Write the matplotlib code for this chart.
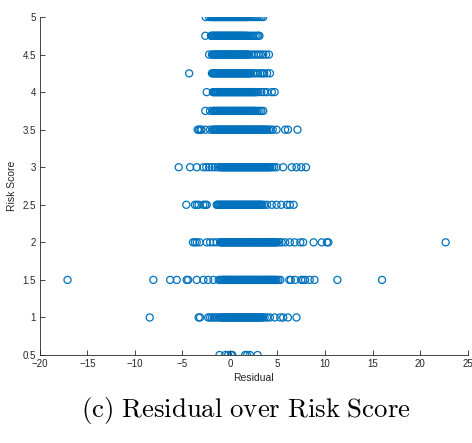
import matplotlib
matplotlib.use("Agg")
import matplotlib.pyplot as plt

# ==========  data  ==========
risk_levels = [5.0, 4.75, 4.5, 4.25, 4.0, 3.75, 3.5, 3.0, 2.5, 2.0, 1.5, 1.0, 0.5]

res_5 = [-2.56, -2.2,
         -2.0, -1.9, -1.8, -1.7, -1.6, -1.5, -1.4, -1.3, -1.2, -1.1, -1.0, -0.9, -0.8, -0.7, -0.6, -0.5,
         -0.4, -0.3, -0.2, -0.1, 0.0, 0.1, 0.2, 0.3, 0.4, 0.5, 0.6, 0.7, 0.8, 0.9, 1.0, 1.1, 1.2, 1.3,
         1.4, 1.5, 1.6, 1.7, 1.8, 1.9,
         2.1, 2.3, 2.5, 2.7, 2.9, 3.1, 3.3, 3.5]
res_475 = [-2.6,
           -2.0, -1.9, -1.8, -1.7, -1.6, -1.5, -1.4, -1.3, -1.2, -1.1, -1.0, -0.9, -0.8, -0.7, -0.6, -0.5,
           -0.4, -0.3, -0.2, -0.1, 0.0, 0.1, 0.2, 0.3, 0.4, 0.5, 0.6, 0.7, 0.8, 0.9, 1.0, 1.1, 1.2, 1.3,
           1.4, 1.5, 1.6, 1.7, 1.8,
           2.0, 2.2, 2.4, 2.6, 2.8, 2.95, 3.1]
res_45 = [-2.2,
          -1.9, -1.8, -1.7, -1.6, -1.5, -1.4, -1.3, -1.2, -1.1, -1.0, -0.9, -0.8, -0.7, -0.6, -0.5, -0.4,
          -0.3, -0.2, -0.1, 0.0, 0.1, 0.2, 0.3, 0.4, 0.5, 0.6, 0.7, 0.8, 0.9, 1.0, 1.1, 1.2, 1.3, 1.4,
          1.5, 1.6, 1.7, 1.8, 1.9, 2.0,
          2.25, 2.5, 2.75, 3.0, 3.25, 3.5, 3.8, 4.1]
res_425 = [-4.3,
           -1.9, -1.8, -1.7, -1.6, -1.5, -1.4, -1.3, -1.2, -1.1, -1.0, -0.9, -0.8, -0.7, -0.6, -0.5, -0.4,
           -0.3, -0.2, -0.1, 0.0, 0.1, 0.2, 0.3, 0.4, 0.5, 0.6, 0.7, 0.8, 0.9, 1.0, 1.1, 1.2, 1.3, 1.4,
           1.5, 1.6, 1.7, 1.8, 1.9, 2.0, 2.1, 2.2,
           2.45, 2.7, 2.95, 3.2, 3.4, 3.6, 3.9, 4.2]
res_4 = [-2.45,
         -1.8, -1.7, -1.6, -1.5, -1.4, -1.3, -1.2, -1.1, -1.0, -0.9, -0.8, -0.7, -0.6, -0.5, -0.4, -0.3,
         -0.2, -0.1, 0.0, 0.1, 0.2, 0.3, 0.4, 0.5, 0.6, 0.7, 0.8, 0.9, 1.0, 1.1, 1.2, 1.3, 1.4, 1.5,
         1.6, 1.7, 1.8, 1.9, 2.0, 2.1, 2.2, 2.3, 2.4, 2.5, 2.6, 2.7, 2.8,
         3.0, 3.3, 3.6, 3.9, 4.4, 4.7]
res_375 = [-2.6, -2.1,
           -1.8, -1.7, -1.6, -1.5, -1.4, -1.3, -1.2, -1.1, -1.0, -0.9, -0.8, -0.7, -0.6, -0.5, -0.4, -0.3,
           -0.2, -0.1, 0.0, 0.1, 0.2, 0.3, 0.4, 0.5, 0.6, 0.7, 0.8, 0.9, 1.0, 1.1, 1.2, 1.3, 1.4, 1.5,
           1.6, 1.7, 1.8, 1.9, 2.0, 2.1, 2.2, 2.3, 2.4, 2.5, 2.6, 2.7,
           2.9, 3.1, 3.3, 3.5]
res_35 = [-3.4, -3.25, -3.1, -3.0, -2.6, -2.1,
          -1.8, -1.7, -1.6, -1.5, -1.4, -1.3, -1.2, -1.1, -1.0, -0.9, -0.8, -0.7, -0.6, -0.5, -0.4, -0.3,
          -0.2, -0.1, 0.0, 0.1, 0.2, 0.3, 0.4, 0.5, 0.6, 0.7, 0.8, 0.9, 1.0, 1.1, 1.2, 1.3, 1.4, 1.5,
          1.6, 1.7, 1.8, 1.9, 2.0, 2.1, 2.2, 2.3, 2.4, 2.5, 2.6, 2.7, 2.8, 2.9, 3.0, 3.1, 3.2, 3.3,
          3.4, 3.5, 3.6, 3.7, 3.8, 3.9,
          4.1, 4.3, 4.5, 4.9, 5.8, 6.1, 7.1]
res_3 = [-5.4, -4.2, -3.5, -2.8, -2.5, -2.2, -1.9, -1.6, -1.3,
         -1.05, -0.95, -0.85, -0.75, -0.65, -0.55, -0.45, -0.35, -0.25, -0.15, -0.05, 0.05, 0.15, 0.25,
         0.35, 0.45, 0.55, 0.65, 0.75, 0.85, 0.95, 1.05, 1.15, 1.25, 1.35, 1.45, 1.55, 1.65, 1.75,
         1.85, 1.95, 2.05, 2.15, 2.25, 2.35, 2.45, 2.55, 2.65, 2.75, 2.85, 2.95, 3.05, 3.15, 3.25,
         3.35, 3.45, 3.55, 3.65, 3.75, 3.85, 3.95, 4.05, 4.15, 4.25,
         4.45, 4.65, 4.9, 5.6, 6.5, 7.0, 7.5, 8.0]
res_25 = [-4.6, -3.7, -3.5, -3.3, -2.8, -2.6, -2.45,
          -1.4, -1.3, -1.2, -1.1, -1.0, -0.9, -0.8, -0.7, -0.6, -0.5, -0.4, -0.3, -0.2, -0.1, 0.0, 0.1,
          0.2, 0.3, 0.4, 0.5, 0.6, 0.7, 0.8, 0.9, 1.0, 1.1, 1.2, 1.3, 1.4, 1.5, 1.6, 1.7, 1.8, 1.9,
          2.0, 2.1, 2.2, 2.3, 2.4, 2.5, 2.6, 2.7, 2.8, 2.9, 3.0, 3.1, 3.2, 3.3, 3.4,
          3.6, 3.9, 4.4, 4.9, 5.4, 6.0, 6.3, 6.7]
res_2 = [-3.9, -3.7, -3.5, -3.2, -2.45, -2.1, -1.75, -1.4,
         -1.05, -0.95, -0.85, -0.75, -0.65, -0.55, -0.45, -0.35, -0.25, -0.15, -0.05, 0.05, 0.15, 0.25,
         0.35, 0.45, 0.55, 0.65, 0.75, 0.85, 0.95, 1.05, 1.15, 1.25, 1.35, 1.45, 1.55, 1.65, 1.75,
         1.85, 1.95, 2.05, 2.15, 2.25, 2.35, 2.45, 2.55, 2.65, 2.75, 2.85, 2.95, 3.05, 3.15, 3.25,
         3.35, 3.45, 3.55, 3.65, 3.75, 3.85, 3.95, 4.05, 4.15, 4.25, 4.35, 4.45, 4.55, 4.65, 4.75,
         4.85, 4.95,
         5.2, 5.45, 5.8, 6.3, 6.8, 7.4, 7.7, 8.8, 9.65, 10.2, 10.35, 22.7]
res_15 = [-17.1, -8.07, -6.3, -5.6, -4.56, -4.4, -3.5, -2.8, -2.3, -1.75, -1.2,
          -1.0, -0.9, -0.8, -0.7, -0.6, -0.5, -0.4, -0.3, -0.2, -0.1, 0.0, 0.1, 0.2, 0.3, 0.4, 0.5,
          0.6, 0.7, 0.8, 0.9, 1.0, 1.1, 1.2, 1.3, 1.4, 1.5, 1.6, 1.7, 1.8, 1.9, 2.0, 2.1, 2.2, 2.3,
          2.4, 2.5, 2.6, 2.7, 2.8, 2.9, 3.0, 3.1, 3.2, 3.3, 3.4, 3.5, 3.6, 3.7, 3.8, 3.9, 4.0, 4.1,
          4.2, 4.3, 4.4, 4.5, 4.6, 4.7, 4.8, 4.9,
          5.1, 5.3, 6.25, 6.4, 6.85, 7.5, 7.7, 7.9, 8.4, 8.9, 11.3, 16.0]
res_1 = [-8.45, -3.3, -3.15, -2.3, -2.1, -1.9, -1.7, -1.5, -1.3,
         -1.05, -0.95, -0.85, -0.75, -0.65, -0.55, -0.45, -0.35, -0.25, -0.15, -0.05, 0.05, 0.15, 0.25,
         0.35, 0.45, 0.55, 0.65, 0.75, 0.85, 0.95, 1.05, 1.15, 1.25, 1.35, 1.45, 1.55, 1.65, 1.75,
         1.85, 1.95, 2.05, 2.15, 2.25, 2.35, 2.45, 2.55, 2.65, 2.75, 2.85, 2.95, 3.05, 3.15, 3.25,
         3.35, 3.45,
         3.65, 3.9, 4.2, 4.7, 5.3, 5.6, 6.1, 7.0]
res_05 = [-1.1, -0.5, -0.2, 0.1, 0.25, 1.6, 1.8, 2.1, 2.9]

residuals = [res_5, res_475, res_45, res_425, res_4, res_375, res_35, res_3, res_25, res_2, res_15, res_1, res_05]

x_ticks = [-20, -15, -10, -5, 0, 5, 10, 15, 20, 25]
y_ticks = [0.5, 1, 1.5, 2, 2.5, 3, 3.5, 4, 4.5, 5]
y_tick_labels = ["0.5", "1", "1.5", "2", "2.5", "3", "3.5", "4", "4.5", "5"]

# ==========  style  ==========
plt.rcParams['font.family'] = ['Liberation Sans', 'DejaVu Sans']
plt.rcParams['mathtext.fontset'] = 'cm'
AX_COLOR = '#262626'
MARK_COLOR = '#0072BD'

fig = plt.figure(figsize=(4.72, 4.43), dpi=100)
ax = fig.add_axes([0.0847, 0.1986, 0.9058, 0.763])

for level, vals in zip(risk_levels, residuals):
    ax.scatter(vals, [level] * len(vals), s=26, facecolors='none',
               edgecolors=MARK_COLOR, linewidths=0.9)

ax.set_xlim(-20, 25)
ax.set_ylim(0.5, 5)
ax.set_xticks(x_ticks)
ax.set_yticks(y_ticks)
ax.set_yticklabels(y_tick_labels)

for side in ['top', 'right']:
    ax.spines[side].set_visible(False)
for side in ['left', 'bottom']:
    ax.spines[side].set_color(AX_COLOR)
    ax.spines[side].set_linewidth(0.6)

ax.tick_params(direction='in', length=3.5, width=0.6, colors=AX_COLOR,
               labelsize=7, pad=3)
ax.set_xlabel('Residual', fontsize=7.5, color=AX_COLOR, labelpad=3)
ax.set_ylabel('Risk Score', fontsize=7.5, color=AX_COLOR, labelpad=4)

# caption below the axes (LaTeX-like serif)
fig.text(0.52, 0.074, r'$\mathrm{(c)\ Residual\ over\ Risk\ Score}$',
         ha='center', va='center', fontsize=19.3, color='black')

fig.savefig('out.png', dpi=100)
plt.close(fig)
